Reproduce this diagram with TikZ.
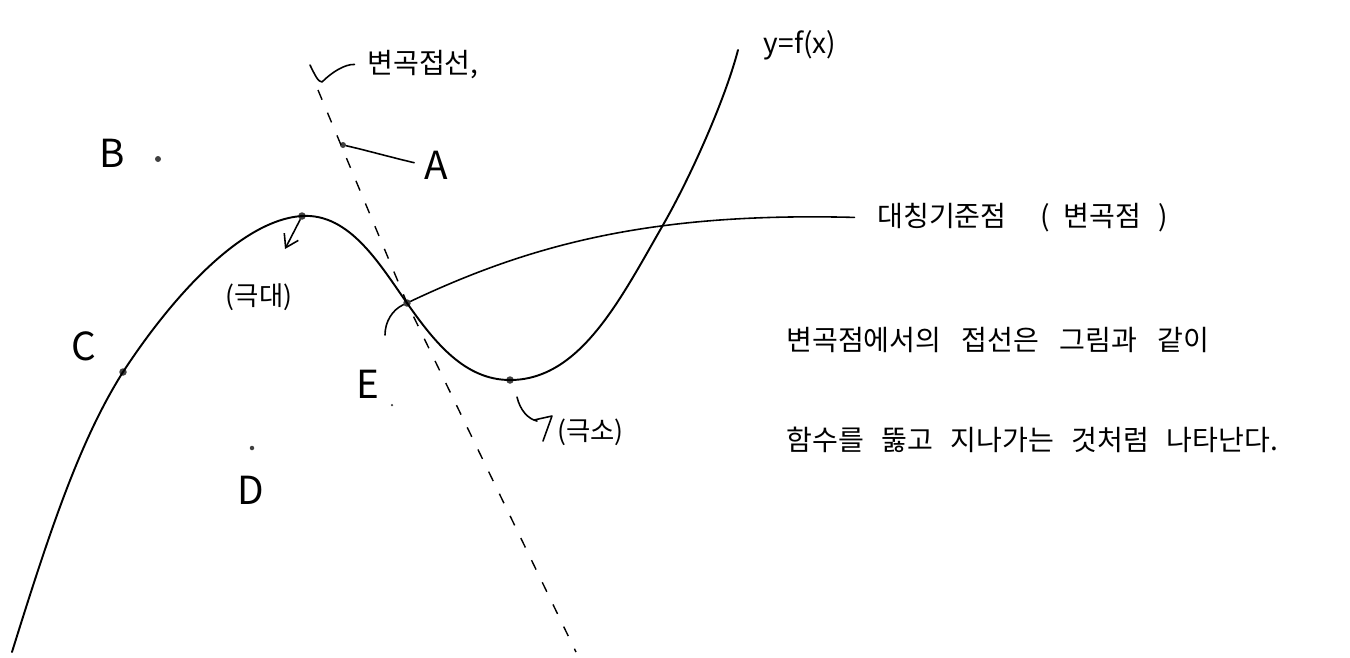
\documentclass[tikz,border=0pt]{standalone}
\usepackage{fontspec}
\setmainfont{Noto Sans CJK KR}
\usetikzlibrary{arrows.meta}
\begin{document}
\begin{tikzpicture}[x=0.02cm,y=-0.02cm,
  curve/.style={line width=1.1pt, line cap=round, line join=round},
  leader/.style={line width=0.9pt, line cap=round, line join=round},
  tangent/.style={line width=0.8pt, dash pattern=on 6pt off 8pt},
  dot/.style={circle, fill=black!75, inner sep=0pt, minimum size=0.15cm},
  letter/.style={font=\fontsize{22pt}{24pt}\selectfont, inner sep=0pt},
  kor/.style={font=\fontsize{16pt}{18pt}\selectfont, inner sep=0pt},
  small/.style={font=\fontsize{15pt}{17pt}\selectfont, inner sep=0pt}]
\useasboundingbox (0,0) rectangle (1350,657);

% points
\node[dot] (C) at (123,372) {};
\node[dot] (max) at (302,216) {};
\node[dot] (infl) at (407,303) {};
\node[dot] (min) at (510,380) {};
\node[dot, minimum size=0.12cm] (Bp) at (158,159) {};
\node[dot, minimum size=0.12cm] (Ap) at (343,145) {};
\node[dot, minimum size=0.09cm] (Dp) at (252,448) {};
\node[dot, minimum size=0.05cm] (Ep) at (392,405) {};

% the function curve y=f(x)
\coordinate (start) at (12,652);
\coordinate (cross) at (663,225);
\coordinate (top) at (738,50);
\draw[curve] (start) .. controls (50,530) and (80,440) .. (C.center)
  .. controls (170,300) and (240,220) .. (max.center)
  .. controls (350,213) and (380,265) .. (infl.center)
  .. controls (435,343) and (465,380) .. (min.center)
  .. controls (580,380) and (620,300) .. (cross)
  .. controls (690,178) and (725,100) .. (top);

% tangent at the inflection point
\coordinate (tTop) at (318,90);
\coordinate (tBot) at (576,652);
\draw[tangent] (tTop) -- (infl.center) -- (tBot);

% labels
\node[letter] (Al) at (436,165) {A};
\node[letter] (Bl) at (112,153) {B};
\node[letter] (Cl) at (84,346) {C};
\node[letter] (Dl) at (251,490) {D};
\node[letter] (El) at (368,384) {E};

\node[kor] (fx) at (800,45) {y=f(x)};
\node[kor, anchor=west] (tanl) at (367,65) {변곡접선,};
\node[kor, anchor=west] (symm) at (877,218) {대칭기준점\hspace{1.2em}(\hspace{0.5em}변곡점\hspace{0.6em})};
\node[small] (maxl) at (259,297) {(극대)};
\node[small, anchor=west] (minl) at (557,432) {(극소)};
\node[kor, anchor=west] (line1) at (786,340) {변곡점에서의\hspace{0.5em} 접선은\hspace{0.5em} 그림과\hspace{0.5em} 같이};
\node[kor, anchor=west] (line2) at (786,440) {함수를\hspace{0.4em} 뚫고\hspace{0.4em} 지나가는\hspace{0.4em} 것처럼\hspace{0.4em} 나타난다.};

% leaders
\coordinate (tanHook) at (310,65);
\draw[leader, shorten >=0.25cm] (tanHook) .. controls (315,75) and (318,82) .. (322,82)
  .. controls (332,72) and (345,64) .. (tanl.west);
\draw[leader, shorten >=0.2cm] (Ap) .. controls (365,150) and (390,157) .. (Al.west);
\draw[leader, shorten >=0.45cm] (infl) .. controls (530,245) and (650,212) .. (symm.west);
\coordinate (arcEnd) at (385,335);
\draw[leader] (infl) .. controls (392,310) and (385,322) .. (arcEnd);
\coordinate (maxTip) at (285,249);
\draw[leader, -{Straight Barb[length=7pt, width=9pt]}] (max) -- (maxTip);
\coordinate (minStart) at (517,397);
\coordinate (minHook) at (537,421);
\draw[leader] (minStart) .. controls (520,410) and (528,419) .. (minHook)
  (534,420) -- (552,416) -- (543,441);
\end{tikzpicture}
\end{document}
